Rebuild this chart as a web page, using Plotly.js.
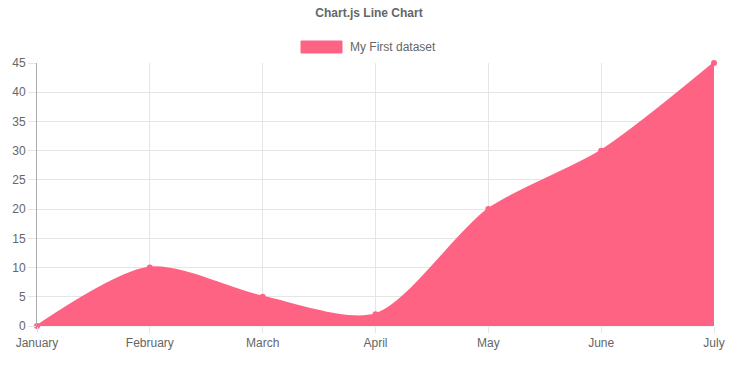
<!DOCTYPE html>
<html>
<head>
<meta charset="utf-8">
<script src="https://cdn.plot.ly/plotly-3.0.1.min.js"></script>
<style>html,body{margin:0;padding:0;background:#fff;}#chart{width:738px;height:370px;}</style>
</head>
<body>
<div id="chart"></div>
<script>
const months = ["January", "February", "March", "April", "May", "June", "July"];
const firstDataset = [0, 10, 5, 2, 20, 30, 45];
const yTicks = [0, 5, 10, 15, 20, 25, 30, 35, 40, 45];
const seriesName = "My First dataset";
const chartTitle = "Chart.js Line Chart";

const pink = "rgb(255,99,132)";
const grid = "#e5e5e5";
const font = {family: "Liberation Sans, Arial, sans-serif", size: 12, color: "#666"};

const trace = {
  type: "scatter",
  mode: "lines+markers",
  x: months,
  y: firstDataset,
  name: seriesName,
  fill: "tozeroy",
  fillcolor: pink,
  line: {color: pink, width: 2, shape: "spline", smoothing: 0.8},
  marker: {color: pink, size: 6},
  cliponaxis: false,
  showlegend: false,
  hoverinfo: "x+y"
};

const layout = {
  width: 738, height: 370,
  margin: {l: 37, r: 24, t: 63, b: 44},
  paper_bgcolor: "#fff", plot_bgcolor: "#fff",
  font: font,
  title: {text: "<b>" + chartTitle + "</b>", font: {family: font.family, size: 12, color: "#666"},
          x: 0.5, xanchor: "center", xref: "container", y: 1 - 13/370, yref: "container", yanchor: "middle"},
  xaxis: {
    type: "category", range: [0, months.length - 1],
    showgrid: true, gridcolor: grid, gridwidth: 1,
    ticks: "outside", ticklen: 6, tickcolor: grid,
    showline: false, zeroline: false,
    tickfont: font
  },
  yaxis: {
    range: [0, 45], tickvals: yTicks,
    showgrid: true, gridcolor: grid, gridwidth: 1,
    ticks: "outside", ticklen: 8, tickcolor: grid,
    showline: true, linecolor: "#aaa", linewidth: 1,
    zeroline: false,
    tickfont: font
  },
  shapes: [
    {type: "line", xref: "paper", yref: "paper", x0: 0, x1: 1, y0: 0, y1: 0, line: {color: grid, width: 1}, layer: "below"},
    {type: "rect", xref: "paper", yref: "paper", x0: (301-37)/677, x1: (342-37)/677, y0: 1 + (63-53)/263, y1: 1 + (63-41)/263,
     fillcolor: pink, line: {color: pink, width: 1}}
  ],
  annotations: [
    {text: seriesName, xref: "paper", yref: "paper", x: (348-37)/677, xanchor: "left", y: 1 + (63-47)/263, yanchor: "middle",
     showarrow: false, font: font}
  ],
  showlegend: false
};

Plotly.newPlot("chart", [trace], layout, {displayModeBar: false, staticPlot: true});
</script>
</body>
</html>
